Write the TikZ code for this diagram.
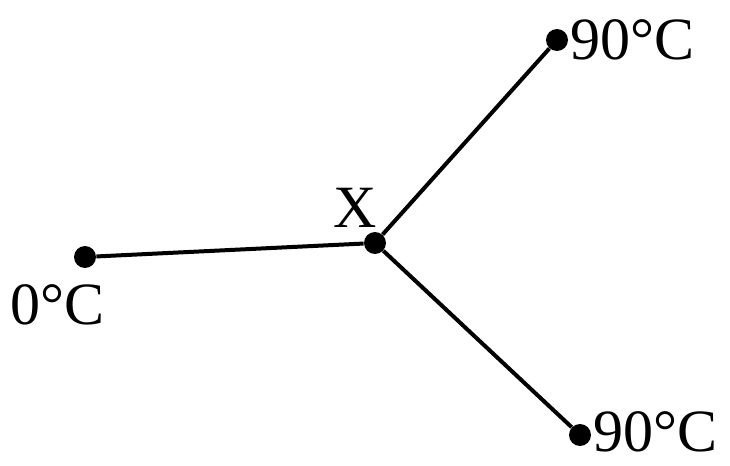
\documentclass[tikz,border=0pt]{standalone}
\usepackage{fontspec}
\setmainfont{Liberation Serif}
\usepackage{tikz}
\usetikzlibrary{positioning}

\begin{document}
\begin{tikzpicture}[
  x=0.5pt, y=-0.5pt,
  dot/.style={circle, fill, inner sep=0pt, minimum size=11pt},
  lbl/.style={inner sep=0pt, font=\fontsize{30}{34}\selectfont},
  wire/.style={line width=2pt}]
  \useasboundingbox (0,0) rectangle (730,466);
  \node[dot] (x)  at (375,243) {};
  \node[dot] (a)  at (85,257)  {};
  \node[dot] (b)  at (557,40)  {};
  \node[dot] (c)  at (580,435) {};
  \node[lbl] (lx) at (355,208) {X};
  \node[lbl] (la) at (58,305)  {0\textdegree C};
  \node[lbl, anchor=west] (lb) at (570,40)  {90\textdegree C};
  \node[lbl, anchor=west] (lc) at (593,432) {90\textdegree C};
  \draw[wire] (a) -- (x);
  \draw[wire] (x) -- (b);
  \draw[wire] (x) -- (c);
\end{tikzpicture}
\end{document}
